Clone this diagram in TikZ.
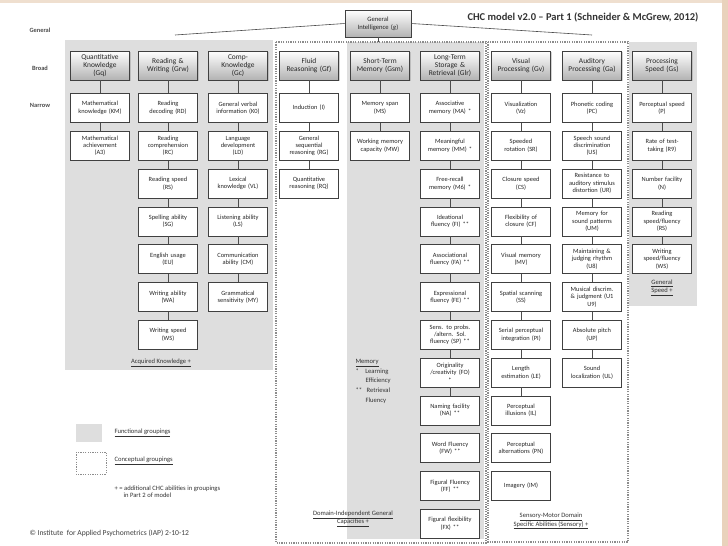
\documentclass[tikz,border=0pt]{standalone}
\usepackage{fontspec}
\setmainfont{Carlito}
\usetikzlibrary{shadows}
\begin{document}
\begin{tikzpicture}[x=1pt,y=-1pt,
  nb/.style={draw=black!75,line width=0.7pt,fill=white,minimum width=59pt,minimum height=29pt,text width=58pt,align=center,inner sep=0.5pt,font=\fontsize{6.4}{7.4}\selectfont,text=black!85},
  bb/.style={nb,top color=white,bottom color=black!30,drop shadow={opacity=0.35,shadow xshift=1pt,shadow yshift=-1pt},font=\fontsize{7.4}{8.2}\selectfont},
  ln/.style={draw=black!70,line width=0.6pt},
  grp/.style={fill=black!13,draw=none},
  cgrp/.style={draw=black!45,line width=1.3pt,dash pattern=on 1.2pt off 1.2pt},
  lbl/.style={font=\fontsize{6.6}{7.8}\selectfont,text=black!80,align=center},
  side/.style={font=\fontsize{6.4}{7.4}\selectfont\bfseries,text=black!70}]
\useasboundingbox (0,0) rectangle (728,546);
\fill[white] (0,0) rectangle (728,546);
\fill[brown!25] (0,0) rectangle (728,3);
\fill[brown!35] (722,0) rectangle (728,546);
% groups
\fill[grp] (65,40) rectangle (273,370);
\fill[grp] (347,42) rectangle (484,539);
\fill[grp] (629,42) rectangle (697,306);
\draw[cgrp] (276,42) rectangle (486,543);
\draw[cgrp] (488,42) rectangle (628,542);
% side labels
\node[side] (sg) at (40,30) {General};
\node[side] (sb) at (40,68) {Broad};
\node[side] (sn) at (40,105) {Narrow};
\node[font=\fontsize{10.5}{12}\selectfont\bfseries,text=black!80] (title) at (583,17) {CHC model v2.0 – Part 1 (Schneider \& McGrew, 2012)};
% g
\node[bb,minimum width=66pt,text width=64pt,minimum height=27pt,font=\fontsize{6.6}{7.8}\selectfont] (g) at (378,23.5) {General\\Intelligence (\textit{g})};
\coordinate (gl) at (175,35);
\coordinate (gr) at (592,35);
\coordinate (gd) at (378,42);
\draw[ln] (g.west) -- (gl);
\draw[ln] (g.east) -- (gr);
\draw[ln] (g.south) -- (gd);
% broad
\node[bb] (gq) at (100,65.5) {Quantitative\\Knowledge\\(Gq)};
\node[bb] (grw) at (168,65.5) {Reading \&\\Writing (Grw)};
\node[bb] (gc) at (238,65.5) {Comp-\\Knowledge\\(Gc)};
\node[bb] (gf) at (309,65.5) {Fluid\\Reasoning (Gf)};
\node[bb] (gsm) at (380,65.5) {Short-Term\\Memory (Gsm)};
\node[bb] (glr) at (450,65.5) {Long-Term\\Storage \&\\Retrieval (Glr)};
\node[bb] (gv) at (521,65.5) {Visual\\Processing (Gv)};
\node[bb] (ga) at (592,65.5) {Auditory\\Processing (Ga)};
\node[bb] (gs) at (662,65.5) {Processing\\Speed (Gs)};
% narrow columns
\newcommand{\mkcol}[4]{%
  \foreach \t [count=\i] in {#3} {\node[nb] (#1\i) at (#2,{108+37.8*(\i-1)}) {\t};}%
  \draw[ln] (#1.south) -- (#11.north);
  \foreach \i [remember=\i as \j (initially 1)] in {2,...,#4} {\draw[ln] (#1\j.south) -- (#1\i.north);}%
}
\mkcol{gq}{100}{{Mathematical\\knowledge (KM)},{Mathematical\\achievement\\(A3)}}{2}
\mkcol{grw}{168}{{Reading\\decoding (RD)},{Reading\\comprehension\\(RC)},{Reading speed\\(RS)},{Spelling ability\\(SG)},{English usage\\(EU)},{Writing ability\\(WA)},{Writing speed\\(WS)}}{7}
\mkcol{gc}{238}{{General verbal\\information (K0)},{Language\\development\\(LD)},{Lexical\\knowledge (VL)},{Listening ability\\(LS)},{Communication\\ability (CM)},{Grammatical\\sensitivity (MY)}}{6}
\mkcol{gf}{309}{{Induction (I)},{General\\sequential\\reasoning (RG)},{Quantitative\\reasoning (RQ)}}{3}
\mkcol{gsm}{380}{{Memory span\\(MS)},{Working memory\\capacity (MW)}}{2}
\mkcol{glr}{450}{{Associative\\memory (MA) *},{Meaningful\\memory (MM) *},{Free-recall\\memory (M6) *},{Ideational\\fluency (FI) **},{Associational\\fluency (FA) **},{Expressional\\fluency (FE) **},{Sens. to probs.\\/altern. Sol.\\fluency (SP) **},{Originality\\/creativity (FO)\\**},{Naming facility\\(NA) **},{Word Fluency\\(FW) **},{Figural Fluency\\(FF) **},{Figural flexibility\\(FX) **}}{9}
\mkcol{gv}{521}{{Visualization\\(Vz)},{Speeded\\rotation (SR)},{Closure speed\\(CS)},{Flexibility of\\closure (CF)},{Visual memory\\(MV)},{Spatial scanning\\(SS)},{Serial perceptual\\integration (PI)},{Length\\estimation (LE)},{Perceptual\\illusions (IL)},{Perceptual\\alternations (PN)},{Imagery (IM)}}{9}
\mkcol{ga}{592}{{Phonetic coding\\(PC)},{Speech sound\\discrimination\\(US)},{Resistance to\\auditory stimulus\\distortion (UR)},{Memory for\\sound patterns\\(UM)},{Maintaining \&\\judging rhythm\\(U8)},{Musical discrim.\\\& judgment (U1\\U9)},{Absolute pitch\\(UP)},{Sound\\localization (UL)}}{8}
\mkcol{gs}{662}{{Perceptual speed\\(P)},{Rate of test-\\taking (R9)},{Number facility\\(N)},{Reading\\speed/fluency\\(RS)},{Writing\\speed/fluency\\(WS)}}{5}
% group labels
\node[lbl] (ak) at (161,363) {\underline{Acquired Knowledge +}};
\node[lbl] (dig) at (353,519) {\underline{Domain-Independent General}\\\underline{Capacities +}};
\node[lbl] (smd) at (551,521) {\underline{Sensory-Motor Domain}\\\underline{Specific Abilities (Sensory) +}};
\node[lbl] (gsp) at (662,288) {\underline{General}\\\underline{Speed +}};
\node[lbl,align=left,anchor=north west,font=\fontsize{6.6}{9.6}\selectfont] (mem) at (352,356) {\underline{Memory}\\*\hspace{5pt} Learning\\\hspace{10pt}Efficiency\\**\hspace{3pt} Retrieval\\\hspace{10pt}Fluency};
% legend
\fill[grp] (76,424) rectangle (102,442);
\node[lbl,anchor=west] (lf) at (111,433) {\underline{Functional groupings}};
\draw[cgrp,line width=1pt] (76,452) rectangle (106,474);
\node[lbl,anchor=west] (lc) at (111,461) {\underline{Conceptual groupings}};
\node[lbl,anchor=north west,align=left] (lp) at (111,482) {+ = additional CHC abilities in groupings\\\hspace{9pt}in Part 2 of model};
\node[font=\fontsize{7.6}{9}\selectfont,text=black!75,anchor=west] (cp) at (26,533) {© Institute\ \ for Applied Psychometrics (IAP) 2-10-12};
\end{tikzpicture}
\end{document}
